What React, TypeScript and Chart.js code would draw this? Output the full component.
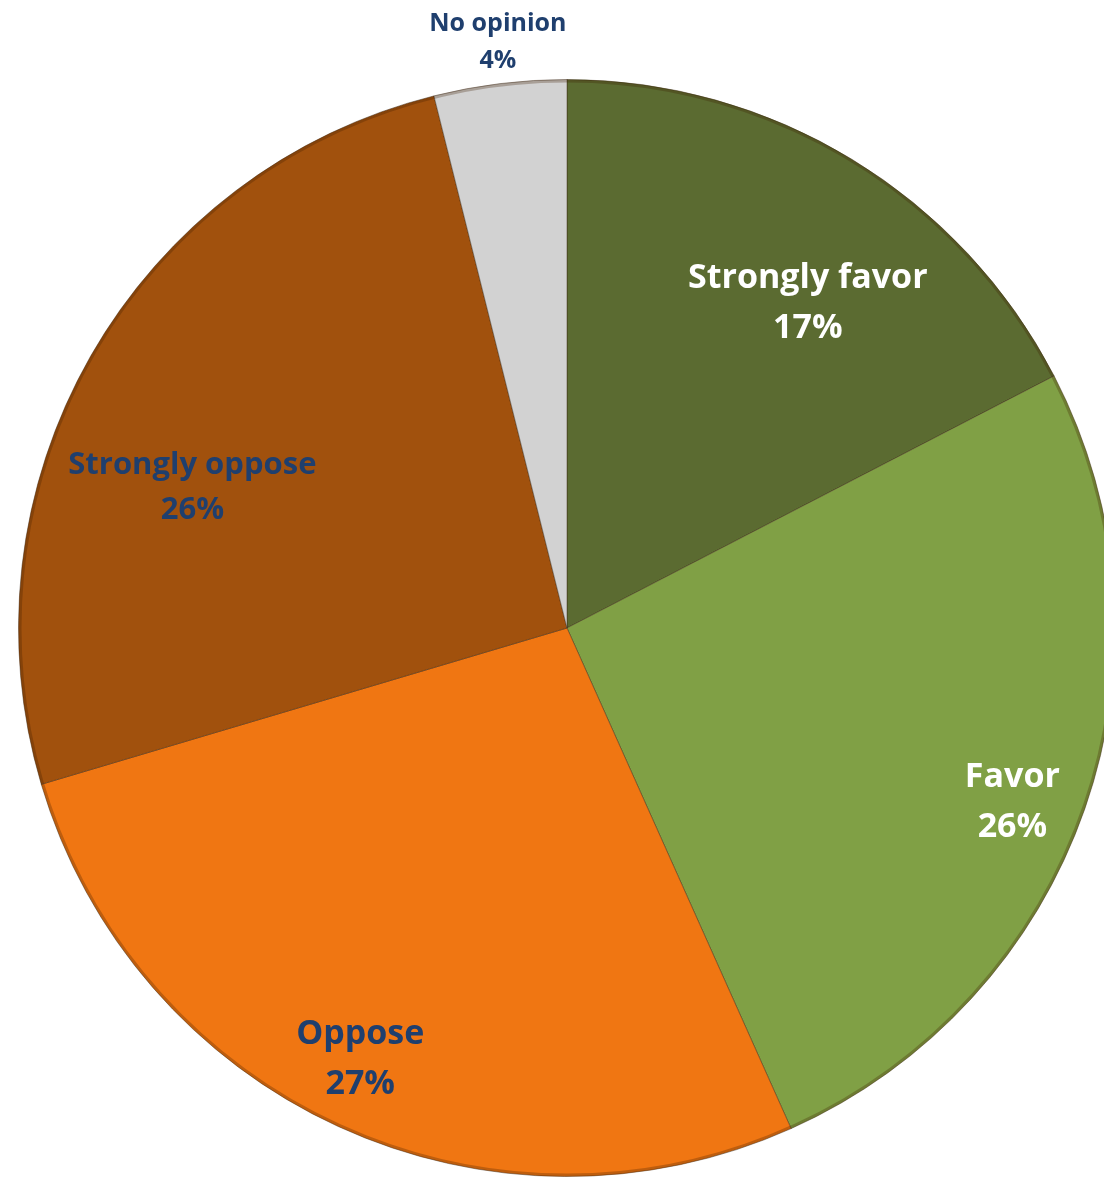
import React, { useEffect, useRef } from "react";
import { Chart, registerables } from "chart.js";

Chart.register(...registerables);

const categories = ["Strongly favor", "Favor", "Oppose", "Strongly oppose", "No opinion"];
const values = [17.4, 25.9, 27.1, 25.7, 3.9];
const valueLabels = ["17%", "26%", "27%", "26%", "4%"];

const sliceColors = ["#5b6b31", "#80a045", "#f07612", "#a1510d", "#d2d2d2"];
const labelColors = ["#ffffff", "#ffffff", "#1f3f6e", "#1f3f6e", "#1f3f6e"];
const labelFontSizes = [34, 34, 34, 31, 25];
const labelLineHeights = [50, 50, 50, 45, 37];
// label block centre, as a fraction of the pie radius from the pie centre
const labelOffsets: [number, number][] = [
  [0.439, -0.592],
  [0.812, 0.317],
  [-0.377, 0.787],
  [-0.683, -0.255],
  [-0.126, -1.067],
];

const labelPlugin = {
  id: "sliceLabels",
  afterDatasetsDraw(chart: any) {
    const ctx = chart.ctx;
    const meta = chart.getDatasetMeta(0);
    // soft shaded rim, like the bevelled original
    const first = meta.data[0];
    if (first) {
      const { x, y, outerRadius } = first.getProps(["x", "y", "outerRadius"], true);
      ctx.save();
      ctx.beginPath();
      ctx.arc(x, y, outerRadius - 1.5, 0, Math.PI * 2);
      ctx.strokeStyle = "rgba(60,30,0,0.28)";
      ctx.lineWidth = 3;
      ctx.stroke();
      ctx.restore();
    }
    meta.data.forEach((arc: any, i: number) => {
      const { x, y, outerRadius } = arc.getProps(["x", "y", "outerRadius"], true);
      const cx = x + labelOffsets[i][0] * outerRadius;
      const cy = y + labelOffsets[i][1] * outerRadius;
      const lh = labelLineHeights[i];
      ctx.save();
      ctx.font = `bold ${labelFontSizes[i]}px "Open Sans", Lato, sans-serif`;
      ctx.fillStyle = labelColors[i];
      ctx.textAlign = "center";
      ctx.textBaseline = "middle";
      ctx.fillText(categories[i], cx, cy - lh / 2);
      ctx.fillText(valueLabels[i], cx, cy + lh / 2);
      ctx.restore();
    });
  },
};

export default function App() {
  const canvasRef = useRef<HTMLCanvasElement | null>(null);

  useEffect(() => {
    if (!canvasRef.current) return;
    const chart = new Chart(canvasRef.current, {
      type: "pie",
      data: {
        labels: categories,
        datasets: [
          {
            data: values,
            backgroundColor: sliceColors,
            borderColor: "rgba(60,40,20,0.45)",
            borderWidth: 1,
          },
        ],
      },
      options: {
        animation: false,
        responsive: true,
        maintainAspectRatio: false,
        layout: { padding: { top: 79, bottom: 4, left: 18, right: 18 } },
        plugins: {
          legend: { display: false },
          tooltip: { enabled: false },
        },
      },
      plugins: [labelPlugin],
    });
    return () => chart.destroy();
  }, []);

  return (
    <div
      style={{
        position: "absolute",
        left: 0,
        top: 0,
        width: 1104,
        height: 1181,
        overflow: "hidden",
        background: "#ffffff",
      }}
    >
      <div style={{ position: "relative", width: 1134, height: 1181 }}>
        <canvas ref={canvasRef} />
      </div>
    </div>
  );
}
